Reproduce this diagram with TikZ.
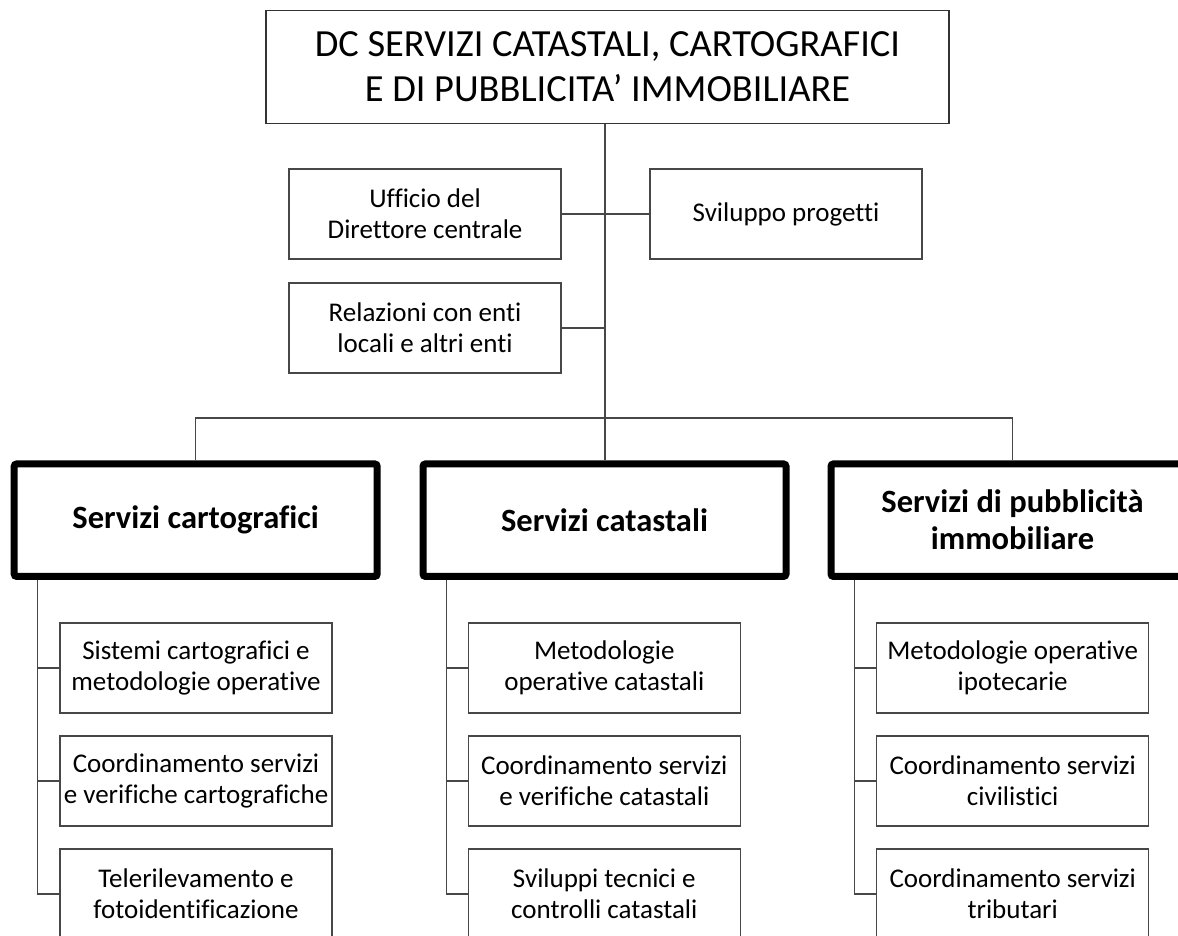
\documentclass[tikz,border=0pt]{standalone}
\usepackage{fontspec}
\setmainfont{Carlito}[Ligatures=NoCommon]
\begin{document}
\begin{tikzpicture}[x=1pt,y=-1pt,
  conn/.style={draw=black!72, line width=1.3pt},
  thinbox/.style={draw=black!72, line width=1.3pt, align=center, inner sep=0pt,
    minimum width=272pt, minimum height=90pt, font=\fontsize{27}{31}\selectfont},
  titlebox/.style={draw=black!80, line width=1.3pt, align=center, inner sep=0pt,
    minimum width=683pt, minimum height=113pt, font=\fontsize{38.4}{44.4}\selectfont},
  thickbox/.style={draw=black, line width=7pt, rounded corners=2.5pt, align=center, inner sep=0pt,
    minimum width=363pt, minimum height=112.5pt, font=\bfseries\fontsize{32.5}{37}\selectfont}]
\useasboundingbox (0,0) rectangle (1178,936);

\node[titlebox] (top) at (607.5,66.7) {DC SERVIZI CATASTALI, CARTOGRAFICI\\E DI PUBBLICITA’ IMMOBILIARE};
\node[thinbox] (uff) at (425,214) {Ufficio del\\Direttore centrale};
\node[thinbox] (svi) at (786,214) {Sviluppo progetti};
\node[thinbox] (rel) at (425,328) {Relazioni con enti\\locali e altri enti};

\node[thickbox] (sa) at (195.7,520.2) {Servizi cartografici};
\node[thickbox] (sb) at (604.5,520.2) {Servizi catastali};
\node[thickbox] (sc) at (1012.5,520.2) {Servizi di pubblicità\\immobiliare};

\node[thinbox] (a1) at (196,668) {Sistemi cartografici e\\metodologie operative};
\node[thinbox] (a2) at (196,781) {Coordinamento servizi\\e verifiche cartografiche};
\node[thinbox] (a3) at (196,894) {Telerilevamento e\\fotoidentificazione};

\node[thinbox] (b1) at (604.3,668) {Metodologie\\operative catastali};
\node[thinbox] (b2) at (604.3,781) {Coordinamento servizi\\e verifiche catastali};
\node[thinbox] (b3) at (604.3,894) {Sviluppi tecnici e\\controlli catastali};

\node[thinbox] (c1) at (1012.7,668) {Metodologie operative\\ipotecarie};
\node[thinbox] (c2) at (1012.7,781) {Coordinamento servizi\\civilistici};
\node[thinbox] (c3) at (1012.7,894) {Coordinamento servizi\\tributari};

\coordinate (bus) at (605,418);

\draw[conn] (top.south -| bus) -- (sb.north -| bus);
\draw[conn] (uff.east) -- (svi.west);
\draw[conn] (rel.east) -- (rel.east -| bus);
\draw[conn] (sa.north) |- (bus) -| (sc.north);

\draw[conn] ([xshift=26.8pt]sa.south west) |- (a1.west);
\draw[conn] ([xshift=26.8pt]sa.south west) |- (a2.west);
\draw[conn] ([xshift=26.8pt]sa.south west) |- (a3.west);
\draw[conn] ([xshift=26.8pt]sb.south west) |- (b1.west);
\draw[conn] ([xshift=26.8pt]sb.south west) |- (b2.west);
\draw[conn] ([xshift=26.8pt]sb.south west) |- (b3.west);
\draw[conn] ([xshift=26.8pt]sc.south west) |- (c1.west);
\draw[conn] ([xshift=26.8pt]sc.south west) |- (c2.west);
\draw[conn] ([xshift=26.8pt]sc.south west) |- (c3.west);
\end{tikzpicture}
\end{document}
